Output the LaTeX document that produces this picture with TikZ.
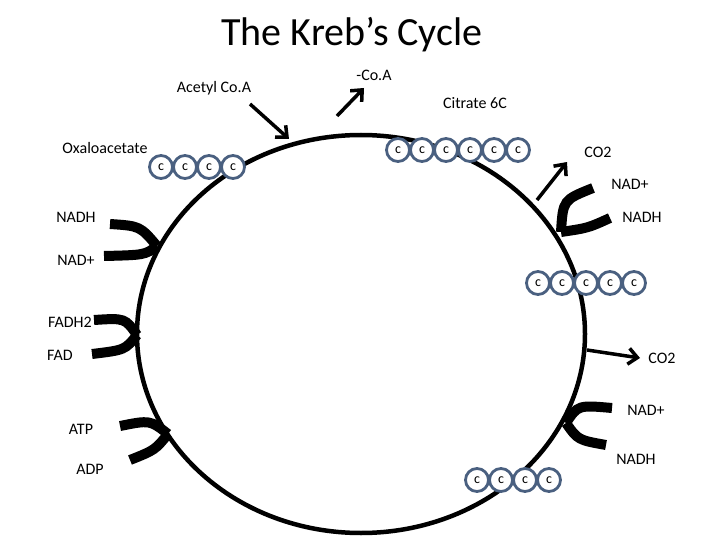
\documentclass[tikz,border=0pt]{standalone}
\usepackage{fontspec}
\setmainfont{Carlito}
\usetikzlibrary{arrows.meta}
\definecolor{cb}{HTML}{4A6080}
\begin{document}
\begin{tikzpicture}[x=1pt,y=-1pt,
 lbl/.style={font=\fontsize{16}{18}\selectfont,inner sep=1pt},
 carb/.style={circle,draw=cb,line width=2.8pt,fill=white,minimum size=23pt,inner sep=0pt,font=\fontsize{14}{14}\selectfont},
 hook/.style={line width=10pt},
 thin/.style={line width=3.5pt,-{Straight Barb[length=9pt,width=16pt]}}]
\useasboundingbox (0,0) rectangle (720,540);
\node[font=\fontsize{40}{44}\selectfont] (title) at (352,35) {The Kreb’s Cycle};
\draw[line width=4.5pt] (361,334) ellipse [x radius=224, y radius=199];
% labels
\node[lbl] (acetyl) at (214,88) {Acetyl Co.A};
\node[lbl] (coa) at (374,75) {-Co.A};
\node[lbl] (citrate) at (475,103) {Citrate 6C};
\node[lbl] (oxa) at (105,148) {Oxaloacetate};
\node[lbl] (co2a) at (598,152) {CO2};
\node[lbl] (nadpa) at (630,184) {NAD+};
\node[lbl] (nadha) at (642,217) {NADH};
\node[lbl] (nadhl) at (76,217) {NADH};
\node[lbl] (nadpl) at (76,260) {NAD+};
\node[lbl] (fadh2) at (70,322) {FADH2};
\node[lbl] (fad) at (60,355) {FAD};
\node[lbl] (co2b) at (662,358) {CO2};
\node[lbl] (nadpb) at (646,410) {NAD+};
\node[lbl] (atp) at (81,429) {ATP};
\node[lbl] (adp) at (90,469) {ADP};
\node[lbl] (nadhb) at (636,459) {NADH};
% coordinates
\coordinate (a1) at (250,104); \coordinate (a2) at (289,139);
\coordinate (c1) at (337,116); \coordinate (c2) at (364,88);
\coordinate (d1) at (537,200); \coordinate (d2) at (567,162);
\coordinate (e1) at (587,350); \coordinate (e2) at (640,358);
\draw[thin] (a1) -- (a2);
\draw[thin] (c1) -- (c2);
\draw[thin] (d1) -- (d2);
\draw[thin] (e1) -- (e2);
% hooks left
\coordinate (h1) at (157,246); \coordinate (h2) at (137,335); \coordinate (h3) at (168,434);
\draw[hook] (110,224) .. controls (140,226) .. (h1);
\draw[hook] (104,256) .. controls (145,255) .. (h1);
\draw[hook] (94,320) .. controls (125,318) .. (h2);
\draw[hook] (92,354) .. controls (125,350) .. (h2);
\draw[hook] (120,426) .. controls (150,420) .. (h3);
\draw[hook] (130,460) .. controls (155,450) .. (h3);
% hooks right
\coordinate (h4) at (561,232); \coordinate (h5) at (566,423);
\draw[hook] (593,188) .. controls (563,200) .. (h4);
\draw[hook] (610,218) .. controls (588,228) .. (h4);
\draw[hook] (612,408) .. controls (578,405) .. (h5);
\draw[hook] (606,445) .. controls (578,440) .. (h5);
% carbons
\foreach \i/\x in {1/161,2/185,3/209,4/233} \node[carb] (ox\i) at (\x,167) {c};
\foreach \i/\x in {1/398,2/422,3/446,4/470,5/494,6/518} \node[carb] (ci\i) at (\x,150) {c};
\foreach \i/\x in {1/538,2/562,3/586,4/610,5/634} \node[carb] (fi\i) at (\x,283) {c};
\foreach \i/\x in {1/477,2/501,3/525,4/549} \node[carb] (fo\i) at (\x,480) {c};
\end{tikzpicture}
\end{document}
